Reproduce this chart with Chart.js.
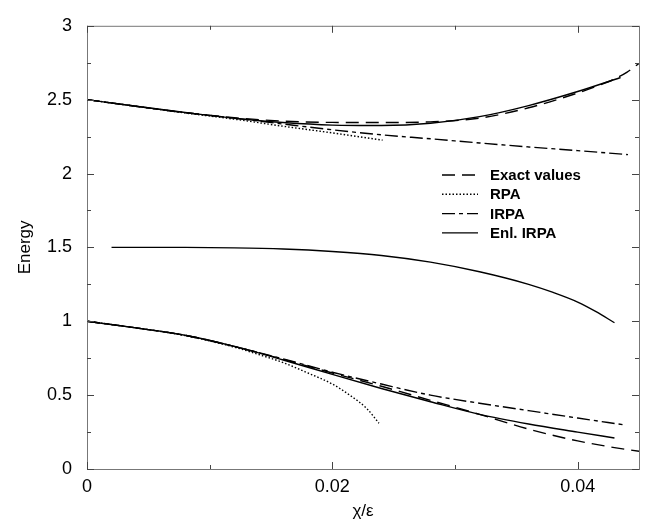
<!DOCTYPE html>
<html>
<head>
<meta charset="utf-8">
<script src="https://cdn.jsdelivr.net/npm/chart.js@4"></script>
<style>
    html, body { margin: 0; padding: 0; background: #fff; }
    #wrap { width: 657px; height: 527px; }
</style>
</head>
<body>
<div id="wrap"><canvas id="chart" width="657" height="527"></canvas></div>
<script>
// энергии уровней в зависимости от chi/eps
const xMajor = [0, 0.02, 0.04];
const xMinor = [0, 0.01, 0.02, 0.03, 0.04];
const yMajor = [0, 0.5, 1, 1.5, 2, 2.5, 3];

// верхняя ветвь
const exactHiX = [0, 0.004, 0.008, 0.012, 0.016, 0.020, 0.024, 0.028, 0.032, 0.036, 0.040, 0.042, 0.043, 0.044, 0.045];
const exactHiY = [2.5, 2.455, 2.412, 2.378, 2.355, 2.346, 2.345, 2.35, 2.375, 2.445, 2.545, 2.605, 2.64, 2.685, 2.745];
const rpaHiX = [0, 0.004, 0.008, 0.012, 0.016, 0.020, 0.0241];
const rpaHiY = [2.5, 2.455, 2.41, 2.368, 2.32, 2.275, 2.226];
const irpaHiX = [0, 0.004, 0.008, 0.012, 0.016, 0.020, 0.024, 0.028, 0.032, 0.036, 0.040, 0.0441];
const irpaHiY = [2.5, 2.455, 2.413, 2.375, 2.335, 2.296, 2.262, 2.235, 2.207, 2.18, 2.155, 2.128];
const enlHiX = [0, 0.004, 0.008, 0.012, 0.016, 0.020, 0.024, 0.028, 0.032, 0.036, 0.040, 0.0435];
const enlHiY = [2.5, 2.455, 2.413, 2.374, 2.345, 2.328, 2.325, 2.34, 2.385, 2.46, 2.555, 2.65];

// средняя ветвь
const enlMidX = [0.002, 0.008, 0.012, 0.016, 0.020, 0.024, 0.028, 0.032, 0.036, 0.038, 0.040, 0.0415, 0.043];
const enlMidY = [1.5, 1.5, 1.497, 1.489, 1.472, 1.445, 1.40, 1.335, 1.25, 1.195, 1.13, 1.065, 0.99];

// нижняя ветвь
const exactLoX = [0, 0.004, 0.008, 0.012, 0.016, 0.020, 0.024, 0.028, 0.032, 0.036, 0.040, 0.043, 0.045];
const exactLoY = [1.0, 0.955, 0.905, 0.83, 0.742, 0.65, 0.56, 0.465, 0.37, 0.27, 0.19, 0.145, 0.12];
const rpaLoX = [0, 0.004, 0.008, 0.012, 0.014, 0.016, 0.018, 0.020, 0.0215, 0.0228, 0.0238];
const rpaLoY = [1.0, 0.955, 0.903, 0.825, 0.775, 0.72, 0.65, 0.575, 0.495, 0.41, 0.31];
const irpaLoX = [0, 0.004, 0.008, 0.012, 0.016, 0.020, 0.024, 0.028, 0.032, 0.036, 0.040, 0.0437];
const irpaLoY = [1.0, 0.955, 0.905, 0.83, 0.745, 0.655, 0.575, 0.50, 0.445, 0.395, 0.345, 0.30];
const enlLoX = [0, 0.004, 0.008, 0.012, 0.016, 0.020, 0.024, 0.028, 0.032, 0.036, 0.040, 0.043];
const enlLoY = [1.0, 0.955, 0.905, 0.83, 0.738, 0.64, 0.545, 0.455, 0.37, 0.305, 0.25, 0.21];

const styles = {
    exact: { label: "Exact values", dash: [13, 7] },
    rpa: { label: "RPA", dash: [1.5, 2] },
    irpa: { label: "IRPA", dash: [13, 4, 4, 4] },
    enl: { label: "Enl. IRPA", dash: [] },
};

function series(kind, xs, ys) {
    return {
        label: styles[kind].label,
        data: xs.map((x, i) => ({ x: x, y: ys[i] })),
        borderColor: "#000",
        borderWidth: 1.4,
        borderDash: styles[kind].dash,
        pointRadius: 0,
        fill: false,
        cubicInterpolationMode: "monotone",
    };
}

const datasets = [
    series("exact", exactHiX, exactHiY),
    series("rpa", rpaHiX, rpaHiY),
    series("irpa", irpaHiX, irpaHiY),
    series("enl", enlHiX, enlHiY),
    series("enl", enlMidX, enlMidY),
    series("exact", exactLoX, exactLoY),
    series("rpa", rpaLoX, rpaLoY),
    series("irpa", irpaLoX, irpaLoY),
    series("enl", enlLoX, enlLoY),
];

const font = "'Liberation Sans', Arial, Helvetica, sans-serif";

function near(v, list) {
    return list.some((m) => Math.abs(m - v) < 1e-9);
}

// рамка, внутренние засечки и легенда
const framePlugin = {
    id: "framePlugin",
    afterDraw(chart) {
        const { ctx, chartArea: a, scales } = chart;
        ctx.save();
        ctx.lineWidth = 1;
        ctx.strokeStyle = "#777";
        ctx.strokeRect(a.left + 0.5, a.top + 0.5, a.right - a.left, a.bottom - a.top);

        ctx.strokeStyle = "#444";
        const seg = (x1, y1, x2, y2) => {
            ctx.beginPath();
            ctx.moveTo(x1, y1);
            ctx.lineTo(x2, y2);
            ctx.stroke();
        };
        scales.y.ticks.forEach((t) => {
            const py = Math.round(scales.y.getPixelForValue(t.value)) + 0.5;
            const len = near(t.value, yMajor) ? 7 : 4;
            seg(a.left, py, a.left + len, py);
            seg(a.right, py, a.right - len, py);
        });
        scales.x.ticks.forEach((t) => {
            const px = Math.round(scales.x.getPixelForValue(t.value)) + 0.5;
            const len = near(t.value, xMajor) ? 7 : 4;
            seg(px, a.bottom, px, a.bottom - len);
            seg(px, a.top, px, a.top + len);
        });

        // легенда
        const kinds = ["exact", "rpa", "irpa", "enl"];
        ctx.font = "bold 15px " + font;
        ctx.textBaseline = "middle";
        ctx.fillStyle = "#000";
        kinds.forEach((k, i) => {
            const ly = 175 + i * 19.3;
            ctx.strokeStyle = "#000";
            ctx.lineWidth = 1.4;
            ctx.setLineDash(styles[k].dash);
            seg(442, ly, 478, ly);
            ctx.setLineDash([]);
            ctx.fillText(styles[k].label, 490, ly + 1);
        });
        ctx.restore();
    },
};

new Chart(document.getElementById("chart"), {
    type: "line",
    data: { datasets: datasets },
    options: {
        responsive: false,
        animation: false,
        layout: { padding: { top: 11, right: 18, left: 0, bottom: 0 } },
        plugins: { legend: { display: false }, tooltip: { enabled: false } },
        scales: {
            x: {
                type: "linear",
                min: 0,
                max: 0.045,
                afterFit: (s) => { s.height = 58; },
                afterBuildTicks: (s) => { s.ticks = xMinor.map((v) => ({ value: v })); },
                grid: { display: false, drawTicks: false },
                border: { display: false },
                ticks: {
                    padding: 7,
                    color: "#000",
                    font: { family: font, size: 18 },
                    maxRotation: 0,
                    autoSkip: false,
                    callback: (v) => (near(v, xMajor) ? String(Math.round(v * 100) / 100) : ""),
                },
                title: {
                    display: true,
                    text: "χ/ε",
                    color: "#000",
                    font: { family: font, size: 17 },
                    padding: { top: 0, bottom: 5 },
                },
            },
            y: {
                min: 0,
                max: 3,
                afterFit: (s) => { s.width = 87; },
                grid: { display: false, drawTicks: false },
                border: { display: false },
                ticks: {
                    stepSize: 0.25,
                    padding: 15,
                    color: "#000",
                    font: { family: font, size: 18 },
                    autoSkip: false,
                    callback: (v) => (near(v, yMajor) ? String(v) : ""),
                },
                title: {
                    display: true,
                    text: "Energy",
                    color: "#000",
                    font: { family: font, size: 17 },
                    padding: { top: 15, bottom: 0 },
                },
            },
        },
    },
    plugins: [framePlugin],
});
</script>
</body>
</html>
